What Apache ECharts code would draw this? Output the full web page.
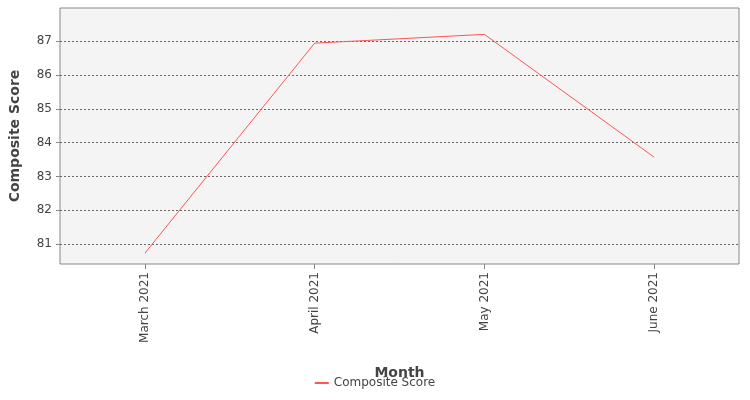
<!DOCTYPE html>
<html><head><meta charset="utf-8">
<script src="https://cdn.jsdelivr.net/npm/echarts@6/dist/echarts.min.js"></script>
<style>html,body{margin:0;padding:0;background:#fff}#c{width:750px;height:400px}</style>
</head><body><div id="c"></div>
<script>
const categories = ["March 2021", "April 2021", "May 2021", "June 2021"];
const compositeScore = [80.73, 86.94, 87.2, 83.57];
const yTicks = [81, 82, 83, 84, 85, 86, 87];

const chart = echarts.init(document.getElementById('c'));
chart.setOption({
  animation: false,
  grid: { left: 59, right: 11, top: 8, bottom: 136, show: true, backgroundColor: '#f4f4f4', borderColor: '#888', borderWidth: 1 },
  legend: { bottom: 6, itemWidth: 14, itemHeight: 2, icon: 'rect', textStyle: { fontFamily: 'DejaVu Sans', fontSize: 12, color: '#444' }, data: ['Composite Score'] },
  xAxis: {
    type: 'category', data: categories, boundaryGap: true,
    name: 'Month', nameLocation: 'middle', nameGap: 102,
    nameTextStyle: { fontFamily: 'DejaVu Sans', fontSize: 14, color: '#444', fontWeight: 'bold' },
    axisLine: { show: false },
    axisTick: { show: true, alignWithLabel: true, length: 5, lineStyle: { color: '#888' } },
    axisLabel: { rotate: 90, fontFamily: 'DejaVu Sans', fontSize: 12, color: '#444', margin: 8 },
    splitLine: { show: false }
  },
  yAxis: {
    type: 'value', min: 80.41, max: 87.98, interval: 1,
    name: 'Composite Score', nameLocation: 'middle', nameGap: 38,
    nameTextStyle: { fontFamily: 'DejaVu Sans', fontSize: 14, color: '#444', fontWeight: 'bold' },
    axisLine: { show: false },
    axisTick: { show: true, length: 4, lineStyle: { color: '#888' } },
    axisLabel: { fontFamily: 'DejaVu Sans', fontSize: 12, color: '#444',
      formatter: v => yTicks.includes(Math.round(v*1000)/1000) ? String(v) : '' , customValues: yTicks},
    axisTick: { show: true, length: 4, customValues: yTicks, lineStyle: { color: '#888' } },
    splitLine: { show: true, lineStyle: { color: '#666', type: [2, 2], width: 1 } }
  },
  series: [{
    name: 'Composite Score', type: 'line', data: compositeScore,
    symbol: 'none', lineStyle: { color: '#ff5555', width: 1 }, itemStyle: { color: '#ff5555' }
  }]
});
</script></body></html>
